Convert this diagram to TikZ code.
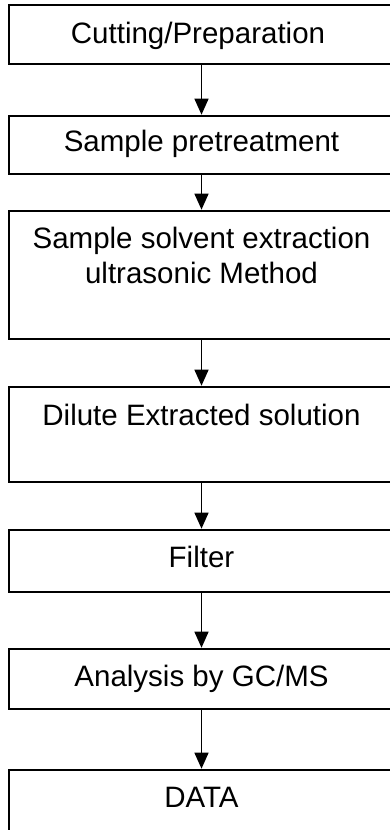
\documentclass[tikz,border=0pt]{standalone}
\usepackage{fontspec}
\setmainfont{Liberation Sans}
\usetikzlibrary{arrows.meta}
\begin{document}
\begin{tikzpicture}[x=1pt,y=-1pt,
  box/.style={draw=black, line width=1.6pt, minimum width=385pt, inner sep=0pt, rectangle},
  txt/.style={anchor=base, inner sep=0pt, font=\fontsize{29.5}{35}\selectfont, align=center},
  flow/.style={line width=1.3pt, -{Triangle[width=14pt,length=16pt]}, shorten >=0.5pt}]
\useasboundingbox (0,0) rectangle (389,830);
\node[box, minimum height=59pt] (b1) at (201.5,34.5) {};
\node[box, minimum height=58pt] (b2) at (201.5,145) {};
\node[box, minimum height=128pt] (b3) at (201.5,275) {};
\node[box, minimum height=95pt] (b4) at (201.5,434.5) {};
\node[box, minimum height=62pt] (b5) at (201.5,561) {};
\node[box, minimum height=60pt] (b6) at (201.5,679) {};
\node[box, minimum height=90pt] (b7) at (201.5,815) {};
\node[txt] (t1) at (198,43) {Cutting/Preparation};
\node[txt] (t2) at (201.5,151) {Sample pretreatment};
\node[txt] (t3) at (201.5,248) {Sample solvent extraction};
\node[txt] (t3b) at (201.5,283) {ultrasonic Method};
\node[txt] (t4) at (201.5,425) {Dilute Extracted solution};
\node[txt] (t5) at (201.5,567) {Filter};
\node[txt] (t6) at (201.5,686) {Analysis by GC/MS};
\node[txt] (t7) at (201.5,807) {DATA};
\draw[flow] (b1.south) -- (b2.north);
\draw[flow] (b2.south) -- (b3.north);
\draw[flow] (b3.south) -- (b4.north);
\draw[flow] (b4.south) -- (b5.north);
\draw[flow] (b5.south) -- (b6.north);
\draw[flow] (b6.south) -- (b7.north);
\end{tikzpicture}
\end{document}
